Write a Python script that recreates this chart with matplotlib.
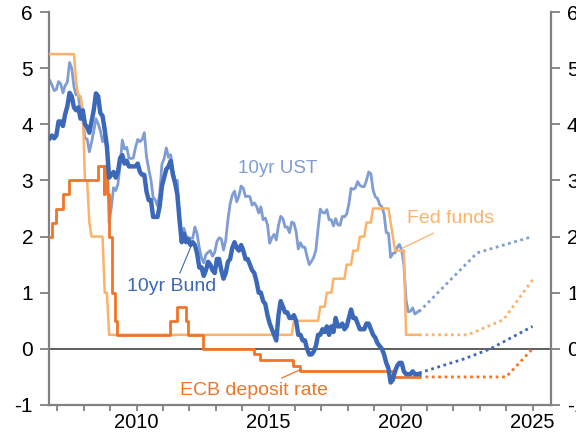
import matplotlib
matplotlib.use("Agg")
import matplotlib.pyplot as plt
import numpy as np
import pandas as pd

plt.rcParams["font.family"] = ["Liberation Sans", "DejaVu Sans"]
plt.rcParams["axes.unicode_minus"] = False

# monthly observations, Sep 2006 .. Sep 2020
months = pd.date_range("2006-09-01", "2020-09-01", freq="MS")

ust_10y = [
    4.78, 4.70, 4.60, 4.62,
    4.76, 4.72, 4.56, 4.69, 4.75, 5.10, 5.00, 4.67, 4.52, 4.53, 4.15, 4.10,
    3.74, 3.74, 3.51, 3.68, 3.88, 4.10, 4.01, 3.89, 3.69, 3.81, 3.53, 2.25,
    2.52, 2.87, 2.82, 2.93, 3.29, 3.72, 3.56, 3.59, 3.40, 3.39, 3.40, 3.59,
    3.73, 3.69, 3.73, 3.85, 3.42, 3.20, 3.01, 2.70, 2.65, 2.54, 2.76, 3.29,
    3.39, 3.58, 3.41, 3.46, 3.17, 3.00, 3.00, 2.30, 1.98, 2.15, 2.01, 1.98,
    1.97, 1.97, 2.17, 2.05, 1.80, 1.62, 1.53, 1.68, 1.72, 1.75, 1.65, 1.72,
    1.91, 1.98, 1.96, 1.76, 1.93, 2.30, 2.58, 2.74, 2.81, 2.62, 2.72, 2.90,
    2.86, 2.71, 2.72, 2.71, 2.56, 2.60, 2.54, 2.42, 2.53, 2.30, 2.33, 2.21,
    1.88, 1.98, 2.04, 1.94, 2.20, 2.36, 2.32, 2.17, 2.17, 2.07, 2.26, 2.24,
    2.09, 1.78, 1.89, 1.81, 1.81, 1.64, 1.50, 1.56, 1.63, 1.76, 2.14, 2.49,
    2.43, 2.42, 2.48, 2.30, 2.30, 2.19, 2.32, 2.21, 2.20, 2.36, 2.35, 2.40,
    2.58, 2.86, 2.84, 2.87, 2.98, 2.91, 2.89, 2.89, 3.00, 3.15, 3.12, 2.83,
    2.71, 2.68, 2.57, 2.53, 2.40, 2.07, 2.06, 1.63, 1.70, 1.71, 1.81, 1.86,
    1.76, 1.50, 0.87, 0.66, 0.67, 0.73, 0.62, 0.65, 0.68,
]

bund_10y = [
    3.75, 3.80, 3.75, 3.80,
    4.05, 4.05, 3.97, 4.18, 4.32, 4.56, 4.50, 4.30, 4.25, 4.30, 4.10, 4.25,
    4.00, 3.95, 3.85, 4.05, 4.25, 4.55, 4.50, 4.20, 4.15, 3.90, 3.60, 3.05,
    3.10, 3.15, 3.05, 3.15, 3.40, 3.45, 3.30, 3.35, 3.25, 3.25, 3.25, 3.25,
    3.30, 3.15, 3.10, 3.10, 2.80, 2.65, 2.65, 2.35, 2.35, 2.35, 2.55, 2.90,
    3.05, 3.20, 3.25, 3.35, 3.10, 2.95, 2.75, 2.30, 1.90, 2.05, 1.90, 1.95,
    1.85, 1.90, 1.85, 1.70, 1.45, 1.45, 1.30, 1.40, 1.55, 1.50, 1.40, 1.35,
    1.60, 1.60, 1.40, 1.25, 1.35, 1.55, 1.60, 1.80, 1.90, 1.80, 1.75, 1.85,
    1.75, 1.60, 1.60, 1.50, 1.40, 1.35, 1.20, 1.00, 1.00, 0.85, 0.80, 0.60,
    0.45, 0.35, 0.25, 0.15, 0.60, 0.85, 0.75, 0.65, 0.65, 0.55, 0.55, 0.60,
    0.50, 0.25, 0.25, 0.15, 0.15, 0.00, -0.10, -0.10, -0.05, 0.05, 0.25, 0.25,
    0.35, 0.30, 0.40, 0.25, 0.40, 0.30, 0.55, 0.40, 0.40, 0.45, 0.35, 0.40,
    0.55, 0.70, 0.55, 0.55, 0.45, 0.35, 0.35, 0.35, 0.45, 0.45, 0.35, 0.25,
    0.20, 0.10, 0.05, 0.00, -0.10, -0.25, -0.35, -0.60, -0.55, -0.40, -0.30, -0.25,
    -0.25, -0.40, -0.45, -0.45, -0.45, -0.40, -0.45, -0.45, -0.45,
]

fed_funds = (
    [5.25] * 4
    + [5.25] * 8 + [4.75, 4.50, 4.50, 4.25]
    + [3.00, 3.00, 2.25, 2.00, 2.00, 2.00, 2.00, 2.00, 2.00, 1.00, 1.00, 0.25]
    + [0.25] * 72
    + [0.25] * 11 + [0.50]
    + [0.50] * 11 + [0.75]
    + [0.75, 0.75, 1.00, 1.00, 1.00, 1.25, 1.25, 1.25, 1.25, 1.25, 1.25, 1.50]
    + [1.50, 1.50, 1.75, 1.75, 1.75, 2.00, 2.00, 2.00, 2.25, 2.25, 2.25, 2.50]
    + [2.50] * 7 + [2.25, 2.00, 1.75, 1.75, 1.75]
    + [1.75, 1.75, 0.25, 0.25, 0.25, 0.25, 0.25, 0.25, 0.25]
)

# ECB deposit rate changes
ecb_dates = ["2006-09-01", "2006-10-11", "2006-12-13", "2007-03-14", "2007-06-13",
             "2008-07-09", "2008-10-08", "2008-10-09", "2008-11-12", "2008-12-10",
             "2009-01-21", "2009-03-11", "2009-04-08", "2011-04-13", "2011-07-13",
             "2011-11-09", "2011-12-14", "2012-07-11", "2014-06-11", "2014-09-10",
             "2015-12-09", "2016-03-16", "2019-09-18", "2020-09-15"]
ecb_rate = [2.00, 2.25, 2.50, 2.75, 3.00,
            3.25, 2.75, 3.25, 2.75, 2.00,
            1.00, 0.50, 0.25, 0.50, 0.75,
            0.50, 0.25, 0.00, -0.10, -0.20,
            -0.30, -0.40, -0.50, -0.50]

# market-implied paths (dotted)
ust_fc_x = [2020.7, 2022.9, 2025.0]
ust_fc = [0.66, 1.71, 2.00]
bund_fc_x = [2020.7, 2022.4, 2023.4, 2025.0]
bund_fc = [-0.43, -0.18, 0.00, 0.40]
fed_fc_x = [2020.7, 2022.55, 2023.9, 2025.0]
fed_fc = [0.25, 0.25, 0.52, 1.23]
ecb_fc_x = [2020.7, 2024.0, 2025.0]
ecb_fc = [-0.50, -0.50, 0.00]


def to_year(d):
    d = pd.to_datetime(d)
    return np.asarray(d.year + (d.dayofyear - 1) / 365.25)


mx = np.asarray(months.year + (months.month - 1) / 12 + 0.5 / 12)
ex = to_year(pd.DatetimeIndex(ecb_dates))

c_ust = "#7f9dd4"
c_bund = "#3c68b9"
c_fed = "#fbb36c"
c_ecb = "#f17528"

fig = plt.figure(figsize=(5.76, 4.33), dpi=100)
ax = fig.add_axes([49 / 576, 28 / 433, 502 / 576, 393 / 433])

dot = (0, (1, 1.3))
ax.axhline(0, color="#505050", lw=1.3, zorder=1)
ax.plot(mx, ust_10y, color=c_ust, lw=2.0, zorder=2)
ax.plot(ust_fc_x, ust_fc, color=c_ust, lw=2.0, ls=dot, zorder=2)
ax.plot(mx, fed_funds, color=c_fed, lw=1.8, zorder=3)
ax.plot(fed_fc_x, fed_fc, color=c_fed, lw=2.0, ls=dot, zorder=3)
ax.plot(ex, ecb_rate, color=c_ecb, lw=2.0, drawstyle="steps-post", zorder=4)
ax.plot(ecb_fc_x, ecb_fc, color=c_ecb, lw=2.0, ls=dot, zorder=4)
ax.plot(mx, bund_10y, color=c_bund, lw=3.2, zorder=5)
ax.plot(bund_fc_x, bund_fc, color=c_bund, lw=2.0, ls=dot, zorder=5)

# labels with leader lines
ax.text(2015.36, 3.21, "10yr UST", color=c_ust, fontsize=13.5, ha="center", va="center")
ax.text(2009.64, 1.11, "10yr Bund", color=c_bund, fontsize=14, ha="left", va="center")
ax.plot([2011.64, 2012.08], [1.35, 1.85], color=c_bund, lw=0.8)
ax.text(2021.88, 2.32, "Fed funds", color=c_fed, fontsize=14, ha="center", va="center")
ax.plot([2021.24, 2020.1], [2.06, 1.80], color=c_fed, lw=0.9)
ax.text(2014.45, -0.75, "ECB deposit rate", color=c_ecb, fontsize=14, ha="center", va="center")
ax.plot([2015.5, 2016.2], [-0.52, -0.37], color=c_ecb, lw=0.9)

ax.set_xlim(2006.68, 2025.7)
ax.set_ylim(-1, 6)
ax.set_xticks(range(2007, 2026))
ax.set_xticklabels([str(y) if y % 5 == 0 else "" for y in range(2007, 2026)])
ax.set_yticks(range(-1, 7))

for s in ["left", "right", "bottom"]:
    ax.spines[s].set_color("#808080")
    ax.spines[s].set_linewidth(1.6)
ax.spines["top"].set_visible(False)
ax.tick_params(axis="y", which="both", direction="out", length=6.5, width=1.3,
               color="#808080", labelsize=15, pad=5, left=True, right=True,
               labelleft=True, labelright=True)
ax.tick_params(axis="x", direction="out", length=4.5, width=1.3, color="#808080",
               labelsize=14.5, pad=1.5)

fig.savefig("out.png", dpi=100)
